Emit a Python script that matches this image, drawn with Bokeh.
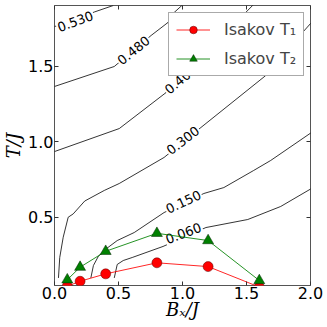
from bokeh.plotting import figure
from bokeh.models import Range1d, LinearAxis, FixedTicker, Legend, LegendItem
from bokeh.core.properties import value
from bokeh.embed import file_html
from bokeh.resources import INLINE

# ---- Isakov critical temperatures ----
bx = [0.1, 0.2, 0.4, 0.8, 1.2, 1.6]
t1 = [0.045, 0.078, 0.127, 0.200, 0.175, 0.040]
t2 = [0.088, 0.171, 0.276, 0.395, 0.347, 0.083]

# ---- contour lines ----
c060_x = [0.467, 0.490, 0.537, 0.607, 0.848, 1.183, 1.510, 1.767, 2.008]
c060_y = [0.100, 0.189, 0.215, 0.235, 0.308, 0.433, 0.486, 0.572, 0.691]
c150_x = [0.284, 0.304, 0.342, 0.397, 0.490, 0.623, 0.856, 1.167, 1.323, 1.556, 1.689, 2.008]
c150_y = [0.100, 0.182, 0.242, 0.288, 0.347, 0.400, 0.532, 0.658, 0.697, 0.810, 0.876, 1.061]
c300_x = [0.031, 0.041, 0.068, 0.107, 0.146, 0.236, 0.389, 0.506, 0.856, 1.144, 1.650, 1.805, 2.008]
c300_y = [0.100, 0.235, 0.369, 0.501, 0.523, 0.608, 0.678, 0.724, 0.896, 1.094, 1.437, 1.596, 1.788]
c400_x = [0.0, 0.506, 0.872, 1.556]
c400_y = [0.935, 1.087, 1.325, 1.907]
c480_x = [0.0, 0.467, 0.755, 0.887, 0.926, 1.004]
c480_y = [1.365, 1.497, 1.702, 1.788, 1.847, 1.907]
c530_x = [0.0, 0.163, 0.311, 0.459]
c530_y = [1.761, 1.804, 1.857, 1.900]

# contour labels
lab_text = ["0.060", "0.150", "0.300", "0.400", "0.480", "0.530"]
lab_x = [1.008, 1.008, 1.004, 0.988, 0.619, 0.163]
lab_y = [0.394, 0.602, 1.008, 1.411, 1.603, 1.794]
lab_angle = [21, 25, 38, 40, 39, 20]

x_ticks = [0.0, 0.5, 1.0, 1.5, 2.0]
x_tick_labels = ["0.0", "0.5", "1.0", "1.5", "2.0"]
y_ticks = [0.5, 1.0, 1.5]
y_tick_labels = ["0.5", "1.0", "1.5"]

p = figure(width=327, height=327, x_range=Range1d(0, 2), y_range=Range1d(0.05, 1.9),
           output_backend="svg", toolbar_location=None,
           min_border_left=53, min_border_right=17, min_border_top=5, min_border_bottom=42)
p.xgrid.visible = False
p.ygrid.visible = False
p.outline_line_color = "#555555"
p.outline_line_width = 1
p.background_fill_color = "white"
p.border_fill_color = "white"

for ax, ticks, labels in ((p.xaxis[0], x_ticks, x_tick_labels),
                          (p.yaxis[0], y_ticks, y_tick_labels)):
    ax.ticker = FixedTicker(ticks=ticks)
    ax.major_label_overrides = {t: s for t, s in zip(ticks, labels)}
    ax.major_tick_in = 4
    ax.major_tick_out = 0
    ax.minor_tick_in = 0
    ax.minor_tick_out = 0
    ax.axis_line_color = None
    ax.major_tick_line_color = "#333333"
    ax.major_label_text_font = "DejaVu Sans"
    ax.major_label_text_font_size = "16px"
    ax.major_label_text_color = "black"
    ax.axis_label_text_font = "DejaVu Serif"
    ax.axis_label_text_font_style = "italic"
    ax.axis_label_text_font_size = "18px"
    ax.axis_label_text_color = "black"

p.xaxis[0].major_label_standoff = 1
p.xaxis[0].axis_label = "Bₓ/J"
p.xaxis[0].axis_label_standoff = -3
p.yaxis[0].major_label_standoff = 1
p.yaxis[0].axis_label = "T/J"
p.yaxis[0].axis_label_standoff = 1

for loc, ticks in (("above", x_ticks), ("right", y_ticks)):
    ax = LinearAxis(ticker=FixedTicker(ticks=ticks), major_tick_in=4, major_tick_out=0,
                    minor_tick_in=0, minor_tick_out=0, axis_line_color=None,
                    major_tick_line_color="#333333", major_label_text_font_size="0px",
                    major_label_overrides={t: "" for t in ticks},
                    major_label_standoff=0)
    p.add_layout(ax, loc)

# contours
p.multi_line(xs=[c060_x, c150_x, c300_x, c400_x, c480_x, c530_x],
             ys=[c060_y, c150_y, c300_y, c400_y, c480_y, c530_y],
             line_color="black", line_width=0.8)

p.text(x=lab_x, y=lab_y, text=lab_text, angle=lab_angle, angle_units="deg",
       text_align="center", text_baseline="middle", text_font=value("DejaVu Sans"),
       text_font_size="13px", text_color="black",
       background_fill_color="white", padding=1)

# Isakov curves
l1 = p.line(bx, t1, line_color="red", line_width=1, line_alpha=0.85)
s1 = p.scatter(bx, t1, marker="circle", size=10, fill_color="red",
               line_color="#550000", line_width=0.5)
l2 = p.line(bx, t2, line_color="green", line_width=1, line_alpha=0.85)
s2 = p.scatter(bx, t2, marker="triangle", size=11, fill_color="green",
               line_color="#002200", line_width=0.5)

legend = Legend(items=[LegendItem(label="Isakov T₁", renderers=[l1, s1]),
                       LegendItem(label="Isakov T₂", renderers=[l2, s2])],
                location=(114, 209), padding=7, spacing=10, glyph_height=19,
                glyph_width=34, label_standoff=14, label_text_font="DejaVu Sans",
                label_text_font_size="16px", border_line_color="#555555",
                border_line_width=1, background_fill_color="white",
                background_fill_alpha=1.0, margin=0)
p.add_layout(legend)

open("out.html", "w").write(file_html(p, INLINE))
